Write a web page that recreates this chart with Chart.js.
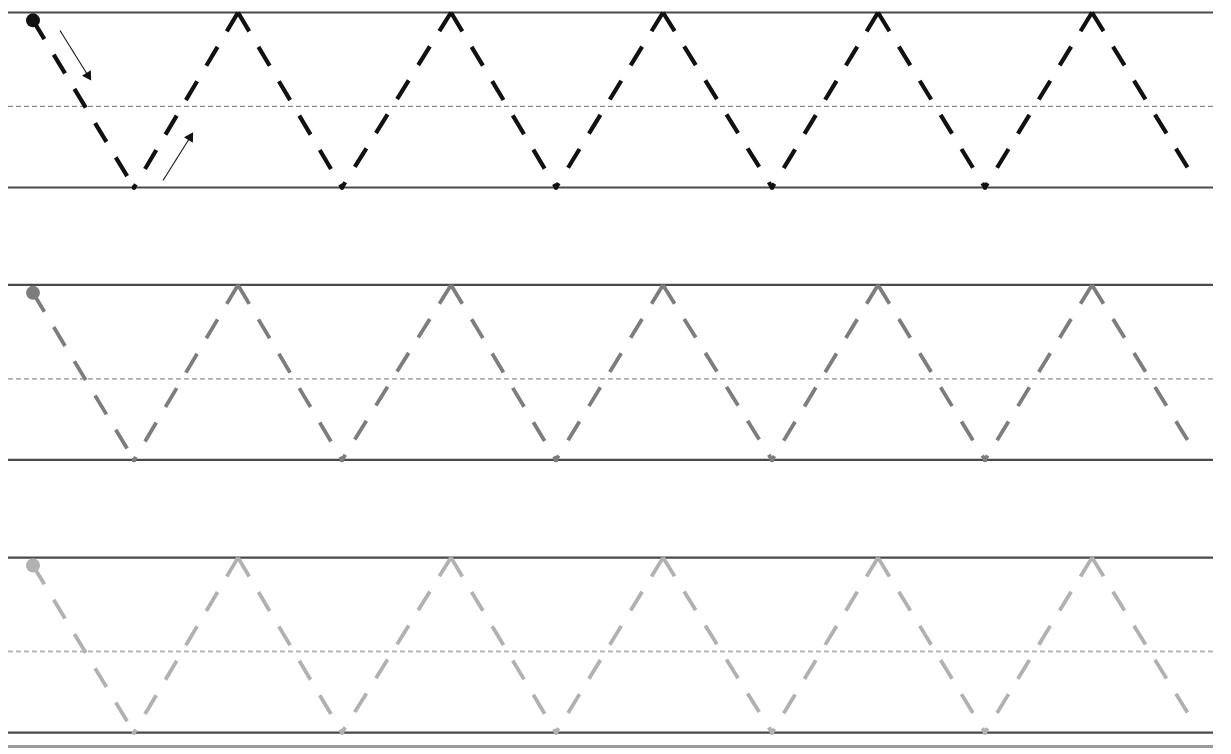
<!DOCTYPE html>
<html>
<head>
<meta charset="utf-8">
<script src="https://cdn.jsdelivr.net/npm/chart.js@4"></script>
<style>
  html, body { margin: 0; padding: 0; background: #ffffff; }
  #wrap { width: 1231px; height: 754px; }
</style>
</head>
<body>
<div id="wrap"><canvas id="c" width="1231" height="754"></canvas></div>
<script>
// zigzag vertices (x in page columns, level: 0 = baseline, 1 = top line)
const zigX = [33, 134, 238, 342, 451, 556, 663, 772, 878, 985, 1092, 1188];
const zigLevel = [0.955, 0, 1, 0, 1, 0, 1, 0, 1, 0, 1, 0.11];

// guide lines of one writing row
const guideX = [8, 1213];
const guideLevels = { top: 1, mid: 0.463, base: 0 };

// three rows, shifted down by these amounts
const rowShift = [0, 1.557, 3.115];
const rowColors = ['#111111', '#7d7d7d', '#b1b1b1'];
const rowMidColors = ['#8a8a8a', '#8f8f8f', '#b8b8b8'];

// direction arrows of the first row
const arrowX = [[60, 88], [163, 190]];
const arrowLevel = [[0.897, 0.64], [0.04, 0.286]];
const arrowRot = [148, 32];

// extra bottom rule under the last row
const footLevel = -0.08;

const datasets = [];

function pts(xs, ys, shift) {
    return xs.map((x, i) => ({ x: x, y: ys[i] - shift }));
}

rowShift.forEach((shift, r) => {
    // solid top + base lines
    ['top', 'base'].forEach(k => {
        datasets.push({
            data: pts(guideX, [guideLevels[k], guideLevels[k]], shift),
            borderColor: '#4a4a4a', borderWidth: 2.2, pointRadius: 0, order: 3
        });
    });
    // dashed mid line
    datasets.push({
        data: pts(guideX, [guideLevels.mid, guideLevels.mid], shift),
        borderColor: rowMidColors[r], borderWidth: r === 2 ? 2 : 1.3,
        borderDash: [5, 3], pointRadius: 0, order: 3
    });
    // the zigzag, one stroke per leg, dashes start at the upper end
    for (let i = 0; i < zigX.length - 1; i++) {
        let a = i, b = i + 1;
        if (zigLevel[b] > zigLevel[a]) { a = i + 1; b = i; }
        datasets.push({
            data: pts([zigX[a], zigX[b]], [zigLevel[a], zigLevel[b]], shift),
            borderColor: rowColors[r], borderWidth: r === 0 ? 4.2 : 3.8,
            borderDash: [22, 18], borderCapStyle: 'butt',
            pointRadius: [0, zigLevel[b] === 0 ? 2.2 : 0],
            pointBackgroundColor: rowColors[r], pointBorderWidth: 0,
            order: 1
        });
    }
    // start dot
    datasets.push({
        data: pts([zigX[0]], [zigLevel[0]], shift),
        showLine: false, pointRadius: 7,
        pointBackgroundColor: rowColors[r], pointBorderWidth: 0, order: 0
    });
});

// foot rule
datasets.push({
    data: pts(guideX, [footLevel, footLevel], rowShift[2]),
    borderColor: '#9a9a9a', borderWidth: 3, pointRadius: 0, order: 3
});

// arrows
arrowX.forEach((xs, i) => {
    datasets.push({
        data: pts(xs, arrowLevel[i], 0),
        borderColor: '#222', borderWidth: 1.2,
        pointStyle: 'triangle', pointRotation: arrowRot[i],
        pointRadius: [0, 6], pointBackgroundColor: '#111', pointBorderColor: '#111',
        pointBorderWidth: 0, order: 0
    });
});

new Chart(document.getElementById('c'), {
    type: 'line',
    data: { datasets: datasets },
    options: {
        responsive: false,
        animation: false,
        devicePixelRatio: 1,
        layout: { padding: 0, autoPadding: false },
        clip: false,
        plugins: { legend: { display: false }, tooltip: { enabled: false }, title: { display: false } },
        elements: { line: { tension: 0, fill: false } },
        scales: {
            x: { type: 'linear', min: 0, max: 1231, display: false },
            y: { type: 'linear', min: -3.2372, max: 1.0714, display: false }
        }
    }
});
</script>
</body>
</html>
